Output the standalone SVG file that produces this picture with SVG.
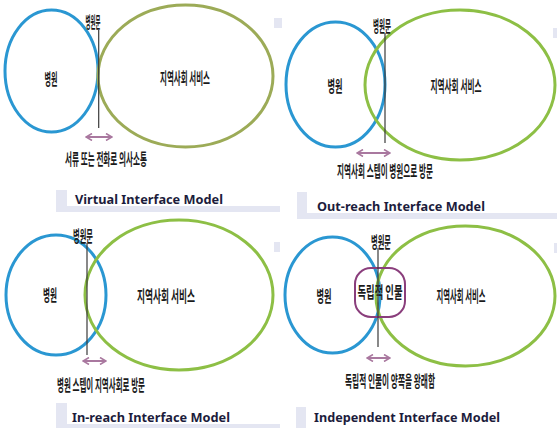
<svg xmlns="http://www.w3.org/2000/svg" width="557" height="433" viewBox="0 0 557 433">
<defs>
<marker id="ah" viewBox="0 0 8 8" refX="7" refY="4" markerWidth="4" markerHeight="4" orient="auto-start-reverse" markerUnits="strokeWidth">
<path d="M1,0.5 L7,4 L1,7.5" fill="none" stroke="#a9789f" stroke-width="1.6"/>
</marker>
<style>
.blue{fill:none;stroke:#2a97d2;stroke-width:3}
.green{fill:none;stroke:#8dbf45;stroke-width:3}
.olive{fill:none;stroke:#9cab57;stroke-width:3}
.door{stroke:#3a3a3a;stroke-width:1.2}
.arr{stroke:#a9789f;stroke-width:2;fill:none;marker-start:url(#ah);marker-end:url(#ah)}
.kr{font-family:"Noto Sans CJK KR","Noto Sans",sans-serif;font-weight:bold;font-size:16px;fill:#1a1a1a;text-anchor:middle}
.title{font-family:"Noto Sans","Liberation Sans",sans-serif;font-weight:bold;font-size:13px;fill:#1c1c3c}
.bar{fill:#e4e6f2}
.person{fill:none;stroke:#8a3e7c;stroke-width:2}
</style>
</defs>
<rect width="557" height="433" fill="#ffffff"/>

<!-- small background fragments -->
<g id="fragments">
<rect class="bar" x="274" y="18" width="6" height="10"/>
<rect class="bar" x="278" y="18" width="4" height="10"/>
<rect class="bar" x="553" y="28" width="4" height="10"/>
<rect class="bar" x="274" y="242" width="6" height="10"/>
<rect class="bar" x="554" y="243" width="3" height="10"/>
</g>

<!-- Panel 1: Virtual -->
<g id="p1-hospital"><ellipse class="blue" cx="51.5" cy="71" rx="46.5" ry="61"/><text class="kr" x="51" y="85" textLength="13" lengthAdjust="spacingAndGlyphs">병원</text></g>
<g id="p1-community"><ellipse class="olive" cx="185.5" cy="76" rx="87.5" ry="71"/><text class="kr" x="185" y="84" textLength="50" lengthAdjust="spacingAndGlyphs">지역사회 서비스</text></g>
<g id="p1-door"><text class="kr" x="93" y="28" textLength="15" lengthAdjust="spacingAndGlyphs">병원문</text></g>
<g id="p1-label"><text class="kr" x="106" y="165" textLength="82" lengthAdjust="spacingAndGlyphs">서류 또는 전화로 의사소통</text></g>
<g id="p1-title"><path class="bar" d="M56,190 H67 V206 H280 V212 H56 Z"/><text class="title" x="75" y="204" textLength="148" lengthAdjust="spacingAndGlyphs">Virtual Interface Model</text></g>

<!-- Panel 2: Out-reach -->
<g id="p2-hospital"><ellipse class="blue" cx="335.5" cy="84.5" rx="49.5" ry="62.5"/><text class="kr" x="335" y="92" textLength="15" lengthAdjust="spacingAndGlyphs">병원</text></g>
<g id="p2-community"><ellipse class="green" cx="460" cy="85" rx="95" ry="75"/><text class="kr" x="456" y="92" textLength="51" lengthAdjust="spacingAndGlyphs">지역사회 서비스</text></g>
<g id="p2-door"><text class="kr" x="382" y="32" textLength="18" lengthAdjust="spacingAndGlyphs">병원문</text></g>
<g id="p2-label"><text class="kr" x="385" y="177" textLength="96" lengthAdjust="spacingAndGlyphs">지역사회 스텝이 병원으로 방문</text></g>
<g id="p2-title"><path class="bar" d="M297,192 H307 V213 H557 V219 H297 Z"/><text class="title" x="317" y="211" textLength="168" lengthAdjust="spacingAndGlyphs">Out-reach Interface Model</text></g>

<!-- Panel 3: In-reach -->
<g id="p3-hospital"><ellipse class="blue" cx="56" cy="295" rx="50" ry="60"/><text class="kr" x="50" y="301" textLength="14" lengthAdjust="spacingAndGlyphs">병원</text></g>
<g id="p3-community"><ellipse class="green" cx="179" cy="295" rx="94" ry="75"/><text class="kr" x="166" y="302" textLength="58" lengthAdjust="spacingAndGlyphs">지역사회 서비스</text></g>
<g id="p3-door"><text class="kr" x="83" y="242" textLength="20" lengthAdjust="spacingAndGlyphs">병원문</text></g>
<g id="p3-label"><text class="kr" x="101" y="391" textLength="88" lengthAdjust="spacingAndGlyphs">병원 스텝이 지역사회로 방문</text></g>
<g id="p3-title"><path class="bar" d="M56,403 H67 V424 H280 V428 H56 Z"/><text class="title" x="72" y="422" textLength="158" lengthAdjust="spacingAndGlyphs">In-reach Interface Model</text></g>

<!-- Panel 4: Independent -->
<g id="p4-hospital"><ellipse class="blue" cx="332.5" cy="295" rx="47.5" ry="58"/><text class="kr" x="324" y="302" textLength="15" lengthAdjust="spacingAndGlyphs">병원</text></g>
<g id="p4-community"><ellipse class="green" cx="465.5" cy="296" rx="89.5" ry="70"/><text class="kr" x="461" y="302" textLength="49" lengthAdjust="spacingAndGlyphs">지역사회 서비스</text></g>
<g id="p4-person"><rect class="person" x="355" y="268" width="50" height="49" rx="16" ry="16"/><text class="kr" x="380" y="298" textLength="45" lengthAdjust="spacingAndGlyphs">독립적 인물</text></g>
<g id="p4-door"><text class="kr" x="381" y="248" textLength="20" lengthAdjust="spacingAndGlyphs">병원문</text></g>
<g id="p4-label"><text class="kr" x="390" y="387" textLength="90" lengthAdjust="spacingAndGlyphs">독립적 인물이 양쪽을 왕래함</text></g>
<g id="p4-title"><rect class="bar" x="296" y="407" width="10" height="21"/><text class="title" x="314" y="422" textLength="186" lengthAdjust="spacingAndGlyphs">Independent Interface Model</text></g>

<!-- connectors -->
<g id="connectors">
<line class="door" x1="98.7" y1="30" x2="98.7" y2="128"/>
<line class="arr" x1="86" y1="137" x2="112" y2="137"/>
<line class="door" x1="385" y1="33" x2="385" y2="143"/>
<line class="arr" x1="357" y1="153" x2="390" y2="153"/>
<line class="door" x1="87" y1="243" x2="87" y2="355"/>
<line class="arr" x1="83" y1="361" x2="106" y2="361"/>
<line class="door" x1="378" y1="248" x2="378" y2="347"/>
<line class="arr" x1="367" y1="358" x2="390" y2="358"/>
</g>
</svg>
